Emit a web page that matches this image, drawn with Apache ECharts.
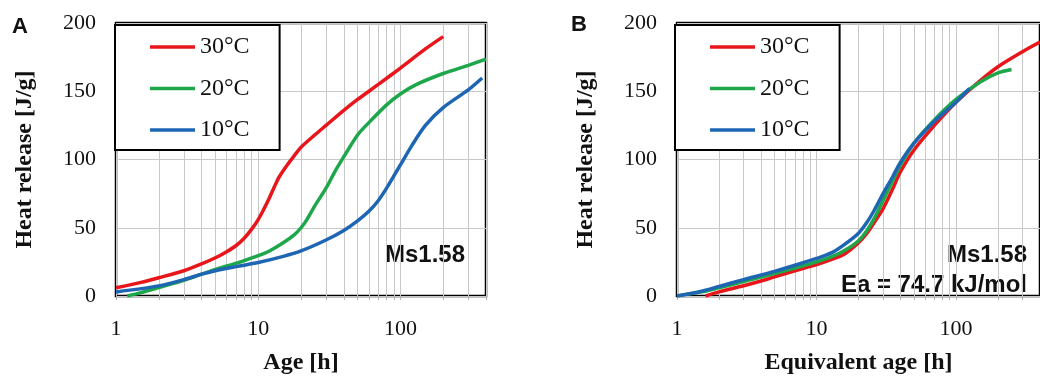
<!DOCTYPE html>
<html>
<head>
<meta charset="utf-8">
<script src="https://cdn.jsdelivr.net/npm/echarts@6/dist/echarts.min.js"></script>
<style>
  html, body { margin: 0; padding: 0; background: #fff; }
  #chart { width: 1040px; height: 380px; }
</style>
</head>
<body>
<div id="chart"></div>
<script>
// Panel A: heat release vs. age
const ageA30 = [1, 1.5, 2, 3, 4, 5, 6, 7, 8, 9, 10, 11, 12, 13, 14, 16, 18, 20, 25, 30, 40, 50, 70, 100, 150, 200]
const heatA30 = [6, 10, 13.4, 18.5, 23.5, 28, 32.5, 37, 42.5, 49, 56, 64, 72, 80, 87, 96, 103, 109, 118, 125, 136, 144, 155, 167, 181, 190]
const ageA20 = [1.2, 1.5, 2, 3, 4, 5, 6, 7, 8, 10, 12, 15, 18, 20, 22, 25, 30, 35, 40, 50, 60, 80, 100, 130, 200, 300, 400]
const heatA20 = [0, 2.5, 6.2, 11.5, 16, 19.5, 22, 24, 26, 29.5, 33, 39, 45, 50, 56, 66, 79, 92, 102, 118, 127, 140, 148, 155, 163, 169, 173.5]
const ageA10 = [1, 2, 3, 4, 5, 7, 10, 15, 20, 30, 40, 50, 60, 70, 80, 90, 100, 120, 150, 200, 300, 376]
const heatA10 = [3, 7.4, 12, 16, 18.5, 21.5, 24.5, 29, 33, 41, 48, 55, 62, 70, 79, 88, 96, 110, 125, 138, 151, 159.7]

// Panel B: heat release vs. equivalent age
const ageB30 = [1.6, 2, 3, 4, 5, 7, 10, 13, 16, 20, 23, 26, 30, 35, 40, 50, 70, 100, 150, 200, 300, 400]
const heatB30 = [0, 3, 7.5, 11, 14, 18.5, 23, 27, 31, 39, 46, 54, 64, 78, 91, 107, 125, 142, 158, 168, 179, 186]
const ageB20 = [1, 1.5, 2, 3, 5, 7, 10, 13, 16, 20, 23, 26, 30, 35, 40, 50, 70, 100, 150, 200, 250]
const heatB20 = [0, 3, 6, 10.5, 16.5, 20.5, 25, 29, 33.5, 40.5, 48, 57, 70, 84, 96, 112, 129, 144, 157, 163.5, 166]
const ageB10 = [1, 1.5, 2, 3, 5, 7, 10, 13, 16, 20, 23, 26, 30, 35, 40, 50, 70, 100, 125]
const heatB10 = [0, 3.5, 7, 12, 18, 22.5, 27.5, 32, 38, 46, 54, 63, 75, 87, 98, 112, 128, 142, 152]

const seriesNames = ['30°C', '20°C', '10°C']
const colors = ['#e8161b', '#1ea64b', '#1e66b4']
const gridTicks = [1, 2, 3, 4, 5, 6, 7, 8, 9, 10, 20, 30, 40, 50, 60, 70, 80, 90, 100, 200, 300, 400]
const xLabels = [1, 10, 100]

const serif = '"Liberation Serif", "DejaVu Serif", serif'
const sans = '"Liberation Sans", Arial, sans-serif'

const zip = (xs, ys) => xs.map((x, i) => [x, ys[i]])

const chart = echarts.init(document.getElementById('chart'), null, { renderer: 'canvas' })

const makeX = (gridIndex, name) => ({
  type: 'log',
  gridIndex,
  logBase: 10,
  min: 1,
  max: 400,
  axisLine: { show: false },
  axisTick: { show: true, customValues: gridTicks, length: 4, lineStyle: { color: '#b0b0b0' } },
  axisLabel: { customValues: xLabels, margin: 22, fontSize: 22, color: '#111', fontFamily: serif },
  splitLine: { show: true, lineStyle: { color: '#c8c8c8', width: 1 } },
  name,
  nameLocation: 'middle',
  nameGap: 55,
  nameTextStyle: { fontSize: 24, fontWeight: 'bold', color: '#111', fontFamily: serif }
})

const makeY = (gridIndex) => ({
  type: 'value',
  gridIndex,
  min: 0,
  max: 200,
  interval: 50,
  axisLine: { show: false },
  axisTick: { show: false },
  axisLabel: { margin: 20, fontSize: 22, color: '#111', fontFamily: serif },
  splitLine: { show: true, lineStyle: { color: '#c8c8c8', width: 1 } },
  name: 'Heat release [J/g]',
  nameLocation: 'middle',
  nameGap: 79,
  nameTextStyle: { fontSize: 24, fontWeight: 'bold', color: '#111', fontFamily: serif }
})

const makeSeries = (name, idx, xs, ys, axisIndex) => ({
  name,
  type: 'line',
  xAxisIndex: axisIndex,
  yAxisIndex: axisIndex,
  data: zip(xs, ys),
  smooth: 0.3,
  symbol: 'none',
  lineStyle: { width: 3.5, color: colors[idx] },
  itemStyle: { color: colors[idx] }
})

const makeLegend = (left) => ({
  left,
  top: 25,
  orient: 'vertical',
  data: seriesNames,
  icon: 'rect',
  backgroundColor: '#fff',
  borderColor: '#000',
  borderWidth: 2,
  padding: [10, 30, 8, 35],
  itemWidth: 45,
  itemHeight: 3.5,
  itemGap: 17.5,
  selectedMode: false,
  textStyle: { fontSize: 24, color: '#111', fontFamily: serif, lineHeight: 24 }
})

const option = {
  animation: false,
  backgroundColor: '#fff',
  grid: [
    { left: 116, top: 23, width: 370, height: 279, show: true, borderColor: '#000', borderWidth: 2.5 },
    { left: 677, top: 23, width: 372, height: 279, show: true, borderColor: '#000', borderWidth: 2.5 }
  ],
  xAxis: [makeX(0, 'Age [h]'), makeX(1, 'Equivalent age [h]')],
  yAxis: [makeY(0), makeY(1)],
  legend: [makeLegend(115), makeLegend(675)],
  series: [
    makeSeries(seriesNames[0], 0, ageA30, heatA30, 0),
    makeSeries(seriesNames[1], 1, ageA20, heatA20, 0),
    makeSeries(seriesNames[2], 2, ageA10, heatA10, 0),
    makeSeries(seriesNames[0], 0, ageB30, heatB30, 1),
    makeSeries(seriesNames[1], 1, ageB20, heatB20, 1),
    makeSeries(seriesNames[2], 2, ageB10, heatB10, 1)
  ],
  graphic: [
    { type: 'text', left: 12, top: 16, style: { text: 'A', font: 'bold 22px ' + sans, fill: '#111' } },
    { type: 'text', left: 571, top: 14, style: { text: 'B', font: 'bold 22px ' + sans, fill: '#111' } },
    { type: 'text', right: 1040 - 465, top: 243, style: { text: 'Ms1.58', font: 'bold 24px ' + sans, fill: '#111', align: 'right' } },
    { type: 'text', right: 13, top: 243, style: { text: 'Ms1.58', font: 'bold 24px ' + sans, fill: '#111', align: 'right' } },
    { type: 'text', right: 13, top: 273, style: { text: 'Ea = 74.7 kJ/mol', font: 'bold 24px ' + sans, fill: '#111', align: 'right' } }
  ]
}

chart.setOption(option)
</script>
</body>
</html>
